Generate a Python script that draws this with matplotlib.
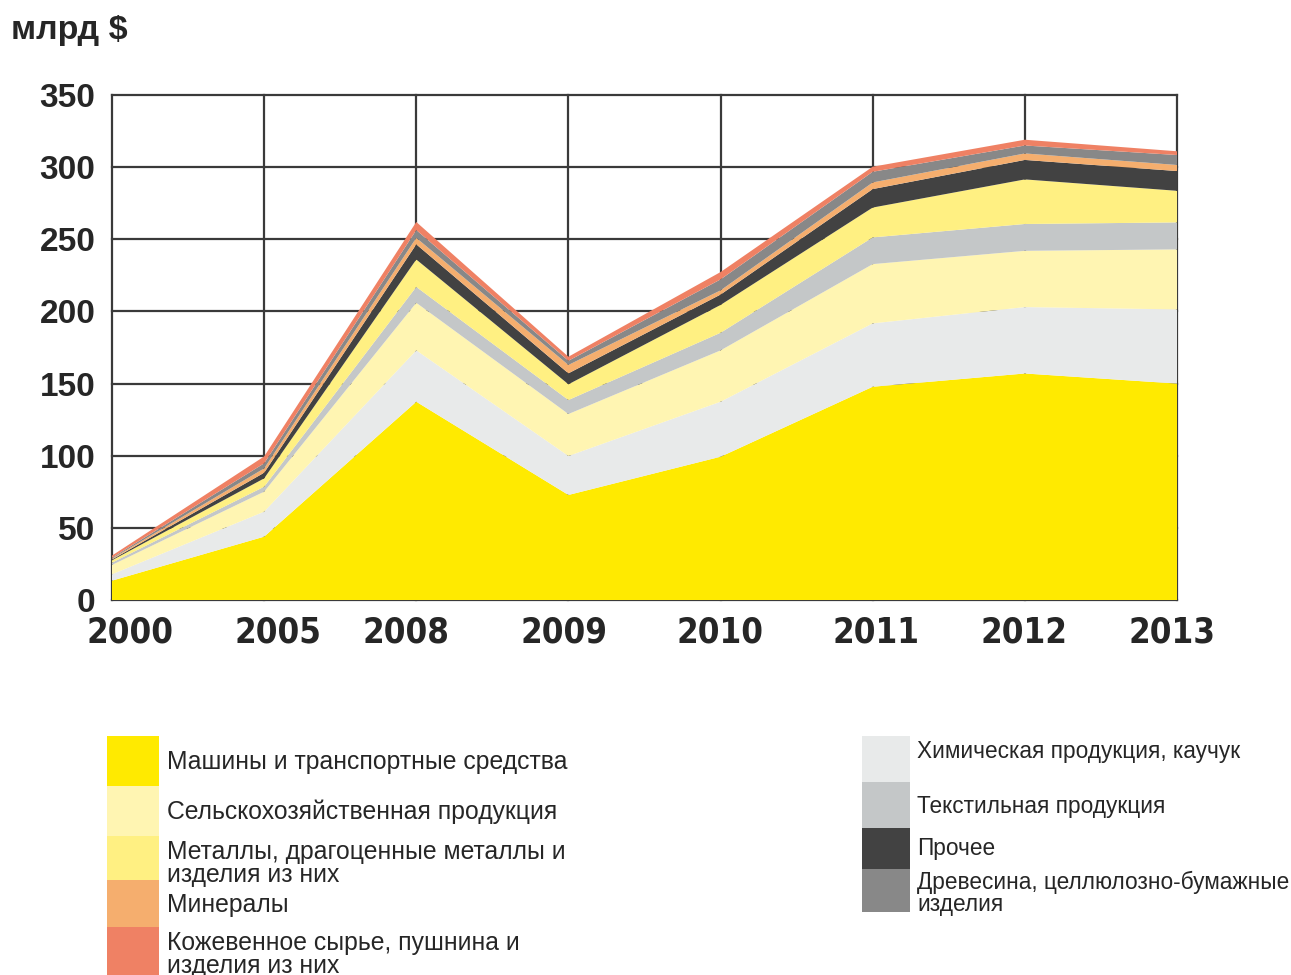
import matplotlib.pyplot as plt
from matplotlib.patches import Rectangle
from matplotlib.transforms import ScaledTranslation

W, H = 1291, 975

years = ["2000", "2005", "2008", "2009", "2010", "2011", "2012", "2013"]

# layer values, bottom to top (млрд $)
machines = [13.4, 43.9, 137.4, 72.8, 99.3, 147.8, 157.0, 150.0]
chemicals = [4.4, 17.3, 35.6, 27.0, 38.1, 43.9, 46.0, 51.4]
agriculture = [6.5, 13.9, 33.0, 29.1, 35.6, 41.1, 39.0, 41.6]
textiles = [1.6, 3.4, 11.0, 9.7, 12.2, 18.5, 18.6, 18.7]
metals = [1.6, 5.8, 19.0, 10.9, 19.3, 20.7, 30.9, 21.9]
other = [0.6, 3.9, 10.5, 7.6, 7.2, 12.8, 13.5, 13.7]
minerals = [0.6, 3.0, 4.5, 5.8, 2.9, 4.6, 4.5, 4.2]
wood = [0.6, 3.5, 5.4, 2.9, 7.6, 7.4, 5.5, 6.9]
leather = [1.5, 4.8, 5.6, 2.8, 5.1, 3.5, 4.0, 2.6]

names = [
    "Машины и транспортные средства",
    "Химическая продукция, каучук",
    "Сельскохозяйственная продукция",
    "Текстильная продукция",
    "Металлы, драгоценные металлы и\nизделия из них",
    "Прочее",
    "Минералы",
    "Древесина, целлюлозно-бумажные\nизделия",
    "Кожевенное сырье, пушнина и\nизделия из них",
]
colors = ["#ffea00", "#e8eaea", "#fff5b2", "#c4c7c8", "#fff082",
          "#424242", "#f5ae6e", "#888888", "#ef8164"]

plt.rcParams['font.family'] = ['Liberation Sans', 'DejaVu Sans']
text_color = "#262626"

fig = plt.figure(figsize=(W / 100, H / 100), dpi=100)
ax = fig.add_axes([112 / W, 1 - 600 / H, (1177 - 112) / W, (600 - 95) / H])

x = list(range(len(years)))
ax.stackplot(x, machines, chemicals, agriculture, textiles, metals, other,
             minerals, wood, leather, colors=colors, linewidth=0)

ax.set_xlim(0, len(years) - 1)
ax.set_ylim(0, 350)
ax.set_yticks(range(0, 351, 50))
ax.set_xticks(x)
ax.set_xticklabels(years)
ax.set_axisbelow(True)
ax.grid(True, color="#3a3a3a", linewidth=1.6)
for line in ax.get_xgridlines() + ax.get_ygridlines():
    line.set_clip_on(False)
for s in ax.spines.values():
    s.set_visible(False)

ax.tick_params(axis='both', length=0, colors=text_color)
ax.tick_params(axis='y', pad=12)
ax.tick_params(axis='x', pad=11)
for lab in ax.get_yticklabels():
    lab.set_fontsize(24)
    lab.set_fontweight('bold')
# year labels sit a little off the grid columns in the original
label_shift = [18, 14, -10, -4, -1, 3, -1, -5]
for lab, dx in zip(ax.get_xticklabels(), label_shift):
    lab.set_fontsize(25)
    lab.set_fontweight('bold')
    lab.set_family('DejaVu Sans')
    lab.set_fontstretch('condensed')
    lab.set_transform(lab.get_transform() + ScaledTranslation(dx / 100, 0, fig.dpi_scale_trans))

fig.text(11 / W, 1 - 31 / H, "млрд $", fontsize=24.5, fontweight='bold',
         color=text_color, va='center', ha='left')


# legend, drawn by hand in two columns
def legend_column(idx, box_x, box_w, edges, text_ys, text_x, size):
    for k, i in enumerate(idx):
        y0, y1 = edges[k], edges[k + 1]
        fig.add_artist(Rectangle((box_x / W, 1 - y1 / H), box_w / W, (y1 - y0) / H,
                                 transform=fig.transFigure, color=colors[i], lw=0))
        fig.text(text_x / W, 1 - text_ys[k] / H, names[i], fontsize=size,
                 color=text_color, va='center', ha='left', linespacing=0.98)


legend_column([0, 2, 4, 6, 8], 107, 52, [736, 786, 836, 880, 927, 990],
              [762, 812, 863.5, 905, 954.5], 167, 17.8)
legend_column([1, 3, 5, 7], 862, 48, [736, 782, 828, 869, 912],
              [751.5, 807, 848, 893.5], 917, 16.3)

fig.savefig("out.png", dpi=100)
